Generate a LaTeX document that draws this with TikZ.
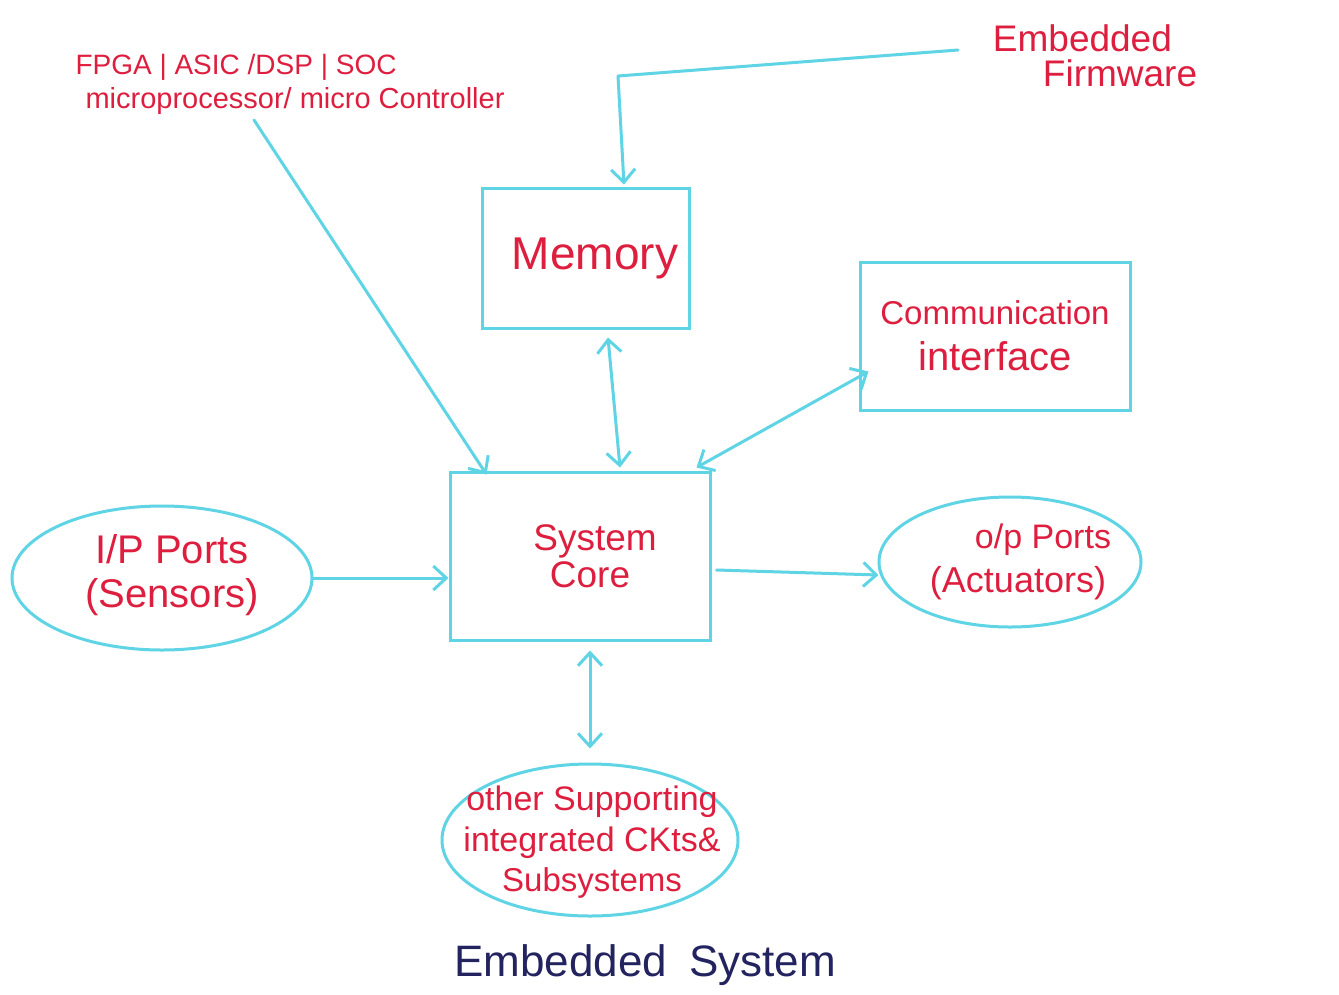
\documentclass[tikz,border=0pt]{standalone}
\usepackage{fontspec}
\setmainfont{Liberation Sans}
\usetikzlibrary{arrows.meta,shapes.geometric,calc}
\definecolor{pen}{RGB}{222,30,62}
\definecolor{ink}{RGB}{35,35,95}
\definecolor{cy}{RGB}{95,212,228}
\newcommand{\fs}[1]{\fontsize{#1}{#1}\selectfont}
\tikzset{
  boxnode/.style={draw=cy, line width=3pt, rectangle, align=center, text=pen, inner sep=0pt},
  ellnode/.style={draw=cy, line width=3pt, ellipse, inner sep=0pt},
  txt/.style={text=pen, align=center, inner sep=0pt},
  arr/.style={draw=cy, line width=3pt, line cap=round, line join=round, -{Straight Barb[length=13pt,width=24pt,line width=3pt]}},
  darr/.style={draw=cy, line width=3pt, line cap=round, {Straight Barb[length=13pt,width=24pt,line width=3pt]}-{Straight Barb[length=13pt,width=24pt,line width=3pt]}}
}
\begin{document}
\begin{tikzpicture}[x=1pt,y=-1pt]
\useasboundingbox[fill=white] (0,0) rectangle (1339,994);

% boxes
\node[boxnode, minimum width=207, minimum height=140] (memory) at (586,258) {\fs{46}\raisebox{-10pt}{\hspace{18pt}Memory}};
\node[boxnode, minimum width=270, minimum height=148] (comm) at (995,336) {\fs{33}Communication\\[16pt]\fs{40}interface};
\node[boxnode, minimum width=260, minimum height=168] (core) at (580,556) {\fs{37}\hspace{30pt}System\\[2pt]\fs{37}\hspace{20pt}Core};

% ellipses
\node[ellnode, minimum width=300, minimum height=144] (ip) at (162,578) {};
\node[txt] (iptxt) at (172,575) {\fs{40}I/P Ports\\[14pt]\fs{40}(Sensors)};
\node[ellnode, minimum width=262, minimum height=130] (op) at (1010,562) {};
\node[txt] (optxt) at (1018,562) {\fs{34}\hspace{50pt}o/p Ports\\[10pt]\fs{36}(Actuators)};
\node[ellnode, minimum width=296, minimum height=152] (other) at (590,840) {};
\node[txt] (othertxt) at (592,842) {\fs{34}other Supporting\\[8pt]\fs{34}integrated CKts\&\\[8pt]\fs{33}Subsystems};

% labels
\node[txt, align=left] (fpga) at (290,84) {\fs{28}FPGA | ASIC /DSP | SOC\\[6pt]\fs{29}\hspace{10pt}microprocessor/ micro Controller};
\node[txt, align=left] (fw) at (1095,56) {\fs{37}Embedded\\[7pt]\fs{37}\hspace{50pt}Firmware};
\node[text=ink, inner sep=0pt] (caption) at (645,965) {\fs{44}Embedded\hspace{0.5em}System};

% connectors
\coordinate (fwstart) at (958,50);
\coordinate (fwbend) at (618,76);
\draw[arr] (fwstart) -- (fwbend) -- ($(memory.north)+(38,-2)$);
\coordinate (fpgastart) at (254,120);
\draw[arr] (fpgastart) -- ($(core.north west)+(38,4)$);
\draw[darr] ($(memory.south)+(22,8)$) -- ($(core.north)+(40,-3)$);
\draw[darr] ($(comm.south west)+(10,-40)$) -- ($(core.north east)+(-15,-3)$);
\draw[arr] (ip.east) -- (ip.east -| core.west);
\draw[arr] ($(core.east)+(5,14)$) -- ($(op.west)+(1,13)$);
\draw[darr] ($(core.south)+(10,9)$) -- ($(other.north)+(0,-14)$);
\end{tikzpicture}
\end{document}
